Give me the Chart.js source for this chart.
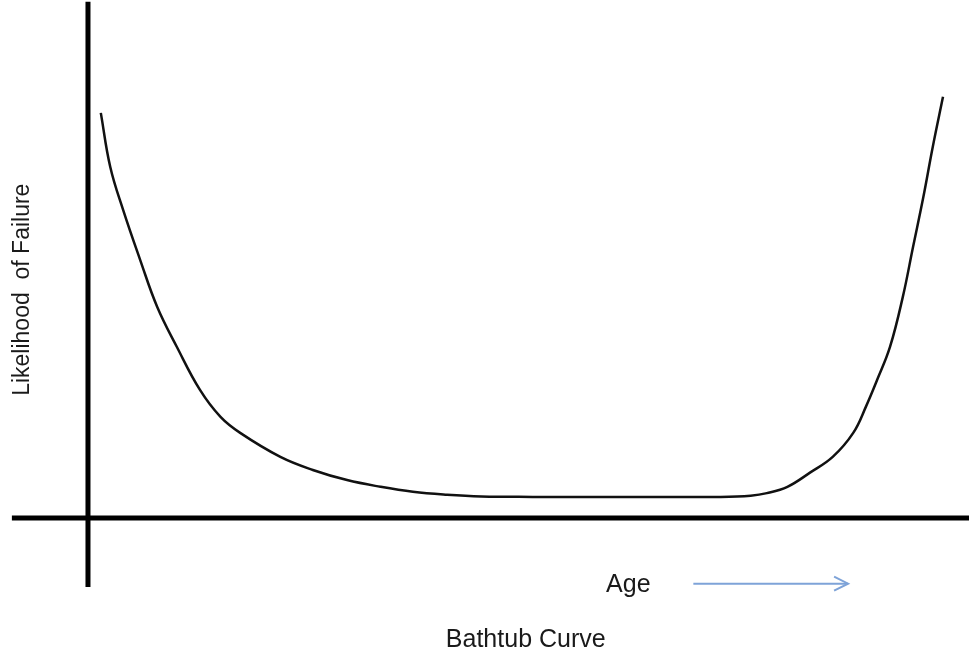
<!DOCTYPE html>
<html>
<head>
<meta charset="utf-8">
<script src="https://cdn.jsdelivr.net/npm/chart.js@4/dist/chart.umd.min.js"></script>
<style>
  html, body { margin: 0; padding: 0; background: #fff; }
  canvas { display: block; }
</style>
</head>
<body>
<canvas id="chart-bathtub" width="969" height="653"></canvas>
<script>
// Courbe en baignoire : valeurs (âge 0..100, probabilité 0..100)
const age = [1.5, 2.6, 4.1, 6.1, 8.1, 10.4, 13.1, 15.5, 17.8, 22.5, 26.3, 30.3, 34.2, 38, 42, 46,
  52, 60, 68, 74, 77.5, 79.4, 81.8, 84.4, 87.1, 89.5, 91, 92.3, 93.8, 95.3, 96.5, 97.7, 98.8, 100];
const likelihood = [96.2, 83.4, 73.2, 61.3, 50.1, 40.6, 30.4, 24.0, 20.2, 14.5, 11.4, 9.0, 7.4, 6.2, 5.5, 5.1,
  5.0, 5.0, 5.0, 5.0, 5.3, 5.9, 7.4, 10.7, 14.5, 20.2, 26.5, 32.8, 40.6, 52.5, 64.4, 76.2, 88.1, 100];

// extents of the hand-drawn axis lines
const axisAgeRange = [-8.9, 103.1];
const axisLikelihoodRange = [-16.4, 122.6];

const yTitle = "Likelihood  of Failure";
const xTitle = "Age";
const chartTitle = "Bathtub Curve";

const curve = age.map((a, i) => ({ x: a, y: likelihood[i] }));

const labelsPlugin = {
  id: 'labels',
  afterDraw(chart) {
    const { ctx, scales } = chart;
    const X = v => scales.x.getPixelForValue(v);
    const Y = v => scales.y.getPixelForValue(v);
    ctx.save();
    ctx.fillStyle = '#1a1a1a';
    ctx.textAlign = 'center';
    ctx.textBaseline = 'middle';

    ctx.font = '25px "Liberation Sans", Arial, sans-serif';
    ctx.fillText(xTitle, X(63.2), Y(-15.9));
    ctx.fillText(chartTitle, X(51.2), Y(-29));

    ctx.save();
    ctx.translate(X(-7.6), Y(54.2));
    ctx.rotate(-Math.PI / 2);
    ctx.font = '23px "Liberation Sans", Arial, sans-serif';
    ctx.fillText(yTitle, 0, 0);
    ctx.restore();

    // flèche bleue après "Age"
    const x0 = X(70.8), x1 = X(88.9), ya = Y(-15.6);
    ctx.strokeStyle = '#7ea3d8';
    ctx.lineWidth = 2;
    ctx.beginPath();
    ctx.moveTo(x0, ya);
    ctx.lineTo(x1, ya);
    ctx.stroke();
    ctx.beginPath();
    ctx.moveTo(x1 - 14, ya - 7);
    ctx.lineTo(x1, ya);
    ctx.lineTo(x1 - 14, ya + 7);
    ctx.stroke();
    ctx.restore();
  }
};

new Chart(document.getElementById('chart-bathtub').getContext('2d'), {
  type: 'line',
  data: {
    datasets: [
      {
        label: 'Bathtub',
        data: curve,
        borderColor: '#111',
        borderWidth: 2.5,
        pointRadius: 0,
        tension: 0.4,
        fill: false
      },
      {
        label: 'axe vertical',
        data: [{ x: 0, y: axisLikelihoodRange[1] }, { x: 0, y: axisLikelihoodRange[0] }],
        borderColor: '#000',
        borderWidth: 5,
        borderCapStyle: 'butt',
        pointRadius: 0
      },
      {
        label: 'axe horizontal',
        data: [{ x: axisAgeRange[0], y: 0 }, { x: axisAgeRange[1], y: 0 }],
        borderColor: '#000',
        borderWidth: 5,
        borderCapStyle: 'butt',
        pointRadius: 0
      }
    ]
  },
  options: {
    responsive: false,
    animation: false,
    devicePixelRatio: 1,
    layout: { padding: 0 },
    plugins: { legend: { display: false }, tooltip: { enabled: false } },
    scales: {
      x: { type: 'linear', display: false, min: -10.29, max: 103.04 },
      y: { type: 'linear', display: false, min: -32.07, max: 123.0 }
    }
  },
  plugins: [labelsPlugin]
});
</script>
</body>
</html>
